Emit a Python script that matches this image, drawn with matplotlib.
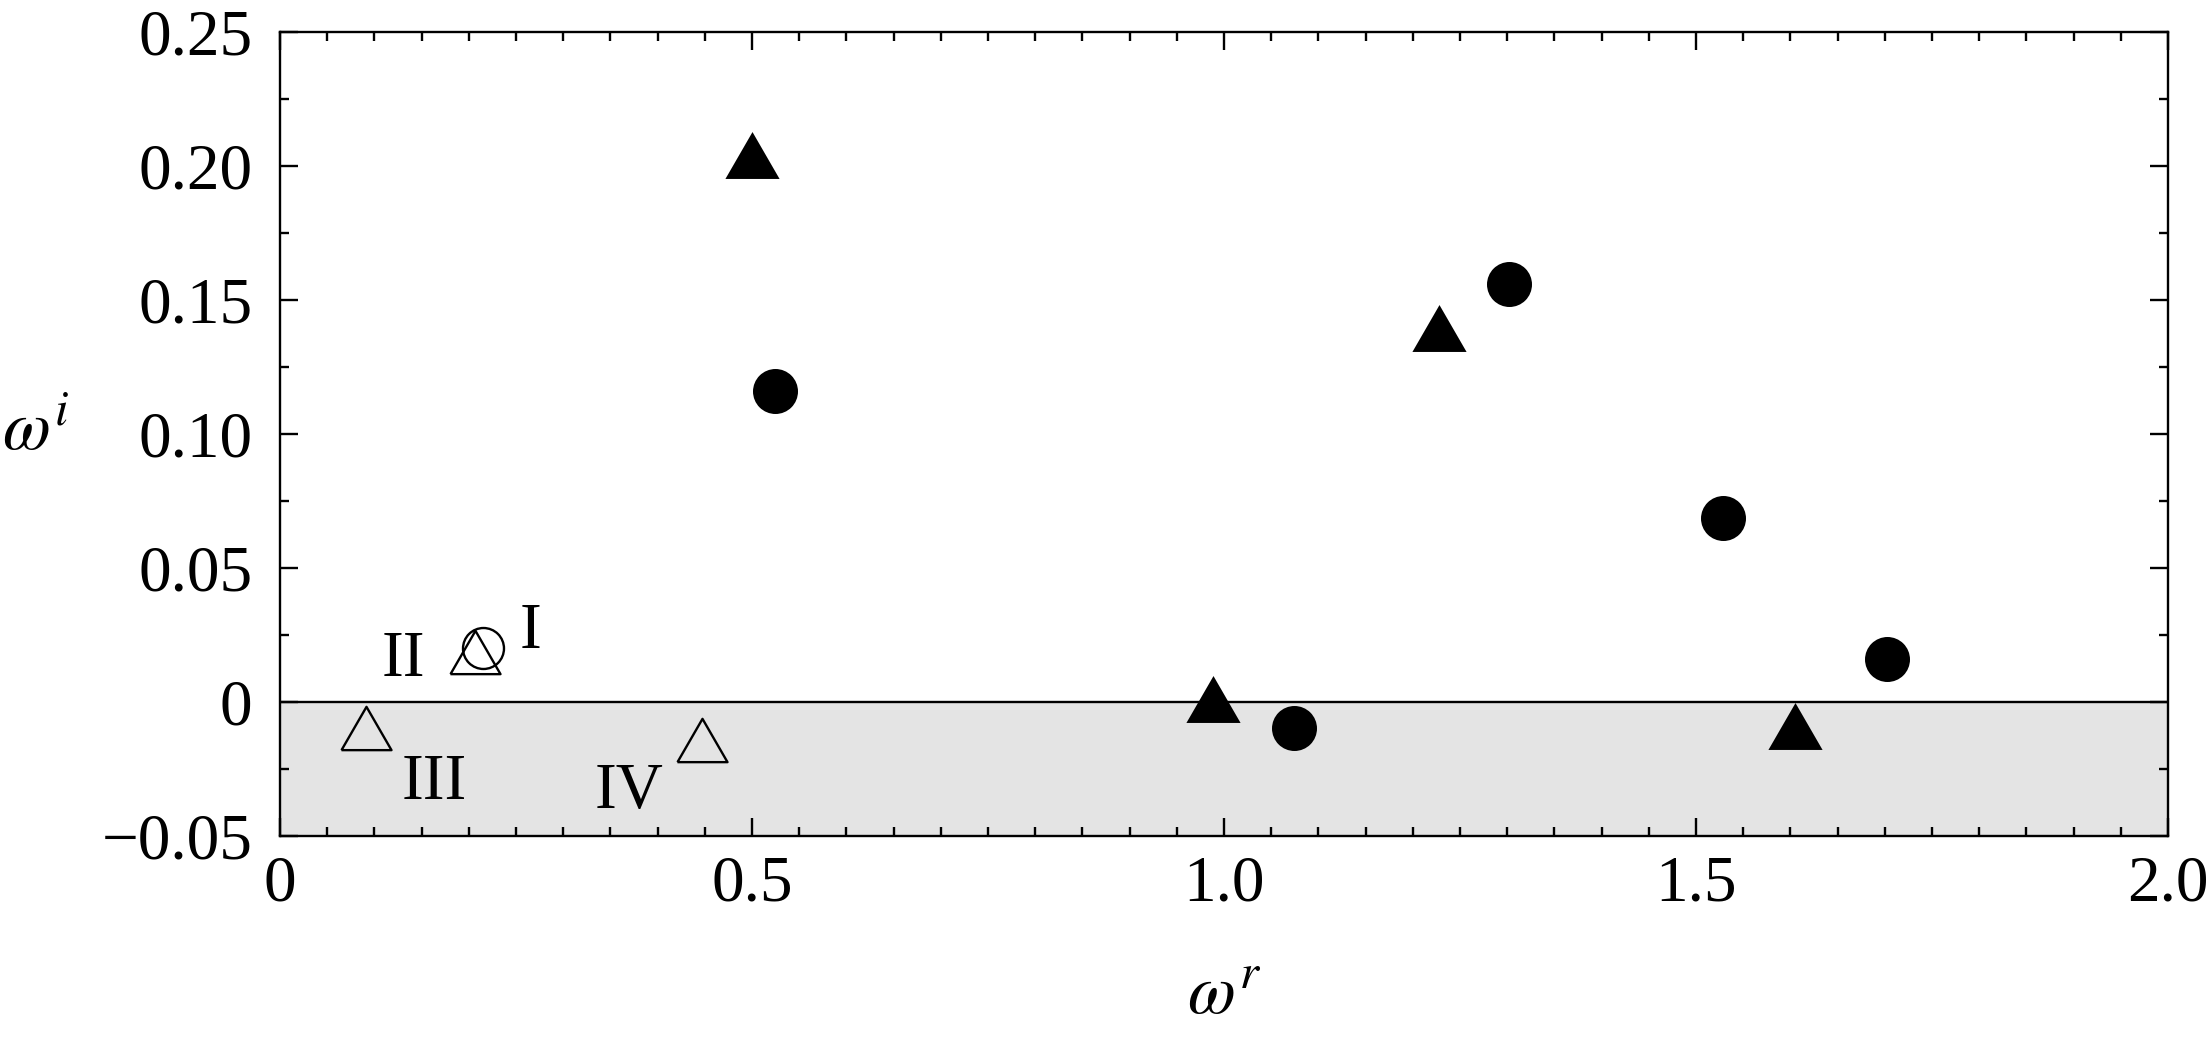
import numpy as np
import matplotlib
matplotlib.use("Agg")
from matplotlib import pyplot as plt
from matplotlib.ticker import MultipleLocator, FixedFormatter, FixedLocator

plt.rcParams['font.family'] = ['Liberation Serif', 'DejaVu Serif']
plt.rcParams['mathtext.fontset'] = 'stix'

# filled symbols
tri_x = [0.500, 0.988, 1.228, 1.605]
tri_y = [0.204, 0.001, 0.1396, -0.009]
circ_x = [0.524, 1.074, 1.302, 1.529, 1.702]
circ_y = [0.116, -0.0097, 0.156, 0.0686, 0.016]

# open symbols (labelled modes)
open_tri_x = [0.0907, 0.2066, 0.447]
open_tri_y = [-0.0097, 0.0187, -0.0142]
open_circ_x = [0.2147]
open_circ_y = [0.020]

mode_names = ['I', 'II', 'III', 'IV']
mode_x = [0.265, 0.131, 0.163, 0.370]
mode_y = [0.020, 0.0097, -0.0362, -0.0396]

xticks = [0, 0.5, 1.0, 1.5, 2.0]
xtick_labels = ['0', '0.5', '1.0', '1.5', '2.0']
yticks = [-0.05, 0, 0.05, 0.10, 0.15, 0.20, 0.25]
ytick_labels = ['\u22120.05', '0', '0.05', '0.10', '0.15', '0.20', '0.25']

# equilateral triangle, width = markersize
tri = [(-1, -0.866), (1, -0.866), (0, 0.866), (-1, -0.866)]

fig = plt.figure(figsize=(22.11, 10.40), dpi=100)
ax = fig.add_axes([0.1266, 0.1962, 0.854, 0.773])

ax.set_xlim(0, 2.0)
ax.set_ylim(-0.05, 0.25)
ax.axhspan(-0.05, 0, color='#e4e4e4', zorder=0)
ax.axhline(0, color='black', lw=1.7, zorder=1)

ax.plot(tri_x, tri_y, ls='none', marker=tri, ms=39, mfc='black', mec='black', mew=0, zorder=3)
ax.plot(circ_x, circ_y, ls='none', marker='o', ms=32.4, mfc='black', mec='black', mew=0, zorder=3)
ax.plot(open_tri_x, open_tri_y, ls='none', marker=tri, ms=36, mfc='none', mec='black', mew=1.7, zorder=3)
ax.plot(open_circ_x, open_circ_y, ls='none', marker='o', ms=29.5, mfc='none', mec='black', mew=1.7, zorder=3)

for name, x, y in zip(mode_names, mode_x, mode_y):
    ax.text(x, y, name, fontsize=47, ha='center', va='baseline')

ax.xaxis.set_major_locator(FixedLocator(xticks))
ax.xaxis.set_major_formatter(FixedFormatter(xtick_labels))
ax.xaxis.set_minor_locator(MultipleLocator(0.05))
ax.yaxis.set_major_locator(FixedLocator(yticks))
ax.yaxis.set_major_formatter(FixedFormatter(ytick_labels))
ax.yaxis.set_minor_locator(MultipleLocator(0.025))

ax.tick_params(which='both', direction='in', top=True, right=True, width=1.7)
ax.tick_params(which='major', length=13)
ax.tick_params(which='minor', length=6.5)
ax.tick_params(axis='x', which='major', labelsize=47, pad=14)
ax.tick_params(axis='y', which='major', labelsize=47, pad=20)
for s in ax.spines.values():
    s.set_linewidth(1.7)

xl = ax.set_xlabel(r'$\omega^{r}$', fontsize=50)
ax.xaxis.set_label_coords(0.5, -0.2226)
xl.set_va('baseline')
yl = ax.set_ylabel(r'$\omega^{i}$', fontsize=50, rotation=0)
ax.yaxis.set_label_coords(-0.147, 0.48)
yl.set_ha('left')
yl.set_va('baseline')

fig.savefig('out.png', dpi=100)
